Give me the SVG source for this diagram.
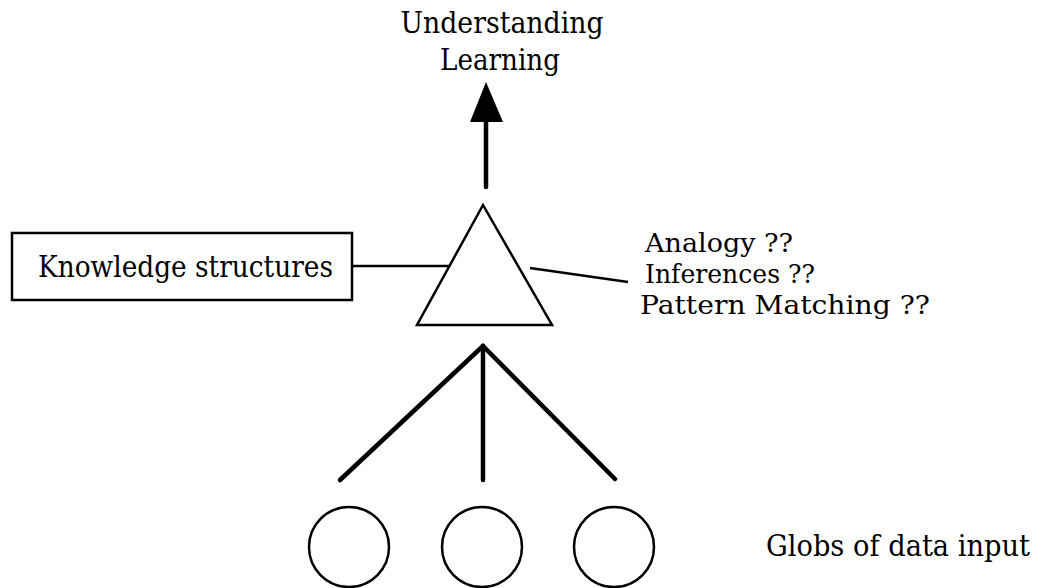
<svg xmlns="http://www.w3.org/2000/svg" width="1050" height="588" viewBox="0 0 1050 588">
<style>
.thin{stroke:#000;stroke-width:2.5;fill:none}
.thick{stroke:#000;stroke-width:4.5;fill:none;stroke-linecap:round}
.lbl{font-family:"DejaVu Serif","Liberation Serif",serif;font-size:29px;fill:#000}
.m{font-size:26px}
</style>
<rect width="1050" height="588" fill="#fff"/>
<g id="output">
<text class="lbl" x="502" y="33" text-anchor="middle" textLength="203" lengthAdjust="spacingAndGlyphs">Understanding</text>
<text class="lbl" x="500" y="70" text-anchor="middle" textLength="120" lengthAdjust="spacingAndGlyphs">Learning</text>
</g>
<g id="knowledge">
<rect class="thin" x="12" y="233" width="340" height="67"/>
<text class="lbl" x="38" y="277" textLength="295" lengthAdjust="spacingAndGlyphs">Knowledge structures</text>
</g>
<g id="processor">
<polygon class="thin" points="483,205 417,325 552,325" stroke-width="3"/>
</g>
<g id="methods">
<text class="lbl m" x="645" y="252" textLength="148" lengthAdjust="spacingAndGlyphs">Analogy ??</text>
<text class="lbl m" x="645" y="283" textLength="170" lengthAdjust="spacingAndGlyphs">Inferences ??</text>
<text class="lbl m" x="640" y="314" textLength="290" lengthAdjust="spacingAndGlyphs">Pattern Matching ??</text>
</g>
<g id="glob1"><circle class="thin" cx="349" cy="547" r="40"/></g>
<g id="glob2"><circle class="thin" cx="482" cy="547" r="40"/></g>
<g id="glob3"><circle class="thin" cx="614" cy="547" r="40"/></g>
<g id="globs-label">
<text class="lbl" x="766" y="556" textLength="264" lengthAdjust="spacingAndGlyphs">Globs of data input</text>
</g>
<g id="connectors">
<line class="thick" x1="486" y1="187" x2="486" y2="120"/>
<polygon points="486,82 470,122 503,122" fill="#000"/>
<line class="thin" x1="352" y1="266" x2="449" y2="266" stroke-width="3"/>
<line class="thin" x1="530" y1="268" x2="628" y2="282" stroke-width="3"/>
<line class="thick" x1="483" y1="346" x2="340" y2="480"/>
<line class="thick" x1="483" y1="346" x2="483" y2="480"/>
<line class="thick" x1="483" y1="346" x2="615" y2="479"/>
</g>
</svg>
